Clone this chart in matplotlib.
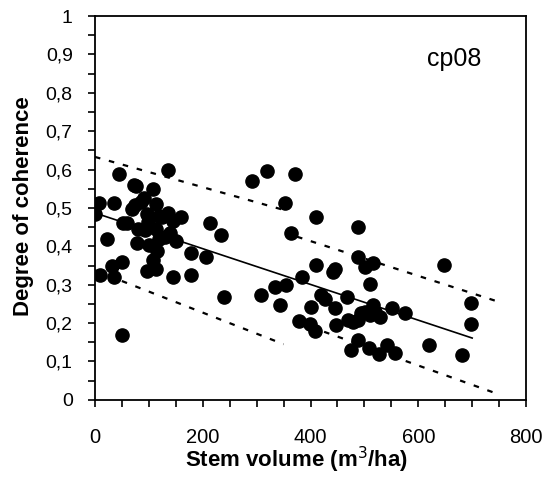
import numpy as np
import matplotlib
matplotlib.use('Agg')
import matplotlib.pyplot as plt
from matplotlib.ticker import MultipleLocator, FuncFormatter

# stem volume (m3/ha) and degree of coherence
vol = [136, 44, 73, 77, 107, 7, 36, 91, 86, 74, 69, 114, 96, 0, 119, 136, 125, 144, 159,
       52, 60, 99, 80, 93, 114, 140, 214, 234, 22, 119, 130, 151, 78, 101, 116, 178, 207,
       107, 51, 32, 96, 113, 10, 36, 144, 178, 240, 51,
       292, 320, 371, 352, 363, 411, 385, 411, 308, 334, 355, 344, 378, 400, 399, 408,
       419, 427, 442, 445, 445, 447, 488, 488, 501, 516, 511, 467, 516, 552, 575, 493,
       501, 510, 519, 529, 470, 479, 488, 648, 697, 697, 488, 475, 509, 527, 542, 556,
       620, 682]
coh = [0.600, 0.588, 0.560, 0.558, 0.550, 0.514, 0.514, 0.525, 0.516, 0.508, 0.497, 0.510,
       0.484, 0.484, 0.479, 0.488, 0.476, 0.467, 0.476, 0.462, 0.462, 0.464, 0.444, 0.443,
       0.444, 0.434, 0.462, 0.430, 0.419, 0.420, 0.424, 0.415, 0.408, 0.403, 0.389, 0.382,
       0.372, 0.365, 0.358, 0.350, 0.337, 0.342, 0.326, 0.321, 0.321, 0.326, 0.269, 0.169,
       0.570, 0.596, 0.588, 0.514, 0.436, 0.476, 0.321, 0.351, 0.273, 0.295, 0.300, 0.247,
       0.206, 0.243, 0.198, 0.180, 0.273, 0.263, 0.332, 0.340, 0.239, 0.195, 0.451, 0.373,
       0.347, 0.356, 0.301, 0.269, 0.247, 0.239, 0.227, 0.226, 0.230, 0.221, 0.230, 0.217,
       0.208, 0.204, 0.208, 0.351, 0.253, 0.198, 0.156, 0.130, 0.135, 0.119, 0.143, 0.123,
       0.143, 0.117]

# regression line and confidence bands (end points)
fit_x = [0, 700]
fit_y = [0.487, 0.161]
upper1_x = [0, 350]
upper1_y = [0.633, 0.495]
upper2_x = [375, 750]
upper2_y = [0.425, 0.255]
lower1_x = [0, 350]
lower1_y = [0.337, 0.145]
lower2_x = [400, 750]
lower2_y = [0.190, 0.014]

plt.rcParams['font.family'] = ['Liberation Sans', 'DejaVu Sans']

fig = plt.figure(figsize=(5.52, 4.87), dpi=100)
ax = fig.add_axes([0.172, 0.179, 0.781, 0.788])

ax.plot(vol, coh, 'o', color='black', markersize=9.5, zorder=3)
ax.plot(fit_x, fit_y, '-', color='black', lw=1.2)
for xs, ys in [(upper1_x, upper1_y), (upper2_x, upper2_y),
               (lower1_x, lower1_y), (lower2_x, lower2_y)]:
    ax.plot(xs, ys, color='black', lw=1.6, dashes=(2.5, 4))

ax.set_xlim(0, 800)
ax.set_ylim(0, 1)
ax.xaxis.set_major_locator(MultipleLocator(200))
ax.xaxis.set_minor_locator(MultipleLocator(50))
ax.yaxis.set_major_locator(MultipleLocator(0.1))
ax.yaxis.set_minor_locator(MultipleLocator(0.05))
ax.yaxis.set_major_formatter(FuncFormatter(lambda v, p: ('%g' % round(v, 2)).replace('.', ',')))
ax.tick_params(which='both', direction='out', length=5, width=1.2)
ax.tick_params(axis='x', pad=15, labelsize=14.5)
ax.tick_params(axis='y', pad=11, labelsize=14)
for s in ax.spines.values():
    s.set_linewidth(1.3)

ax.set_xlabel('Stem volume (m$^3$/ha)', fontsize=16, fontweight='bold')
ax.xaxis.set_label_coords(0.467, -0.118)
ax.set_ylabel('Degree of coherence', fontsize=16, fontweight='bold')
ax.yaxis.set_label_coords(-0.142, 0.505)
ax.text(0.833, 0.888, 'cp08', transform=ax.transAxes, fontsize=18, ha='center', va='center')

fig.savefig('out.png', dpi=100)
